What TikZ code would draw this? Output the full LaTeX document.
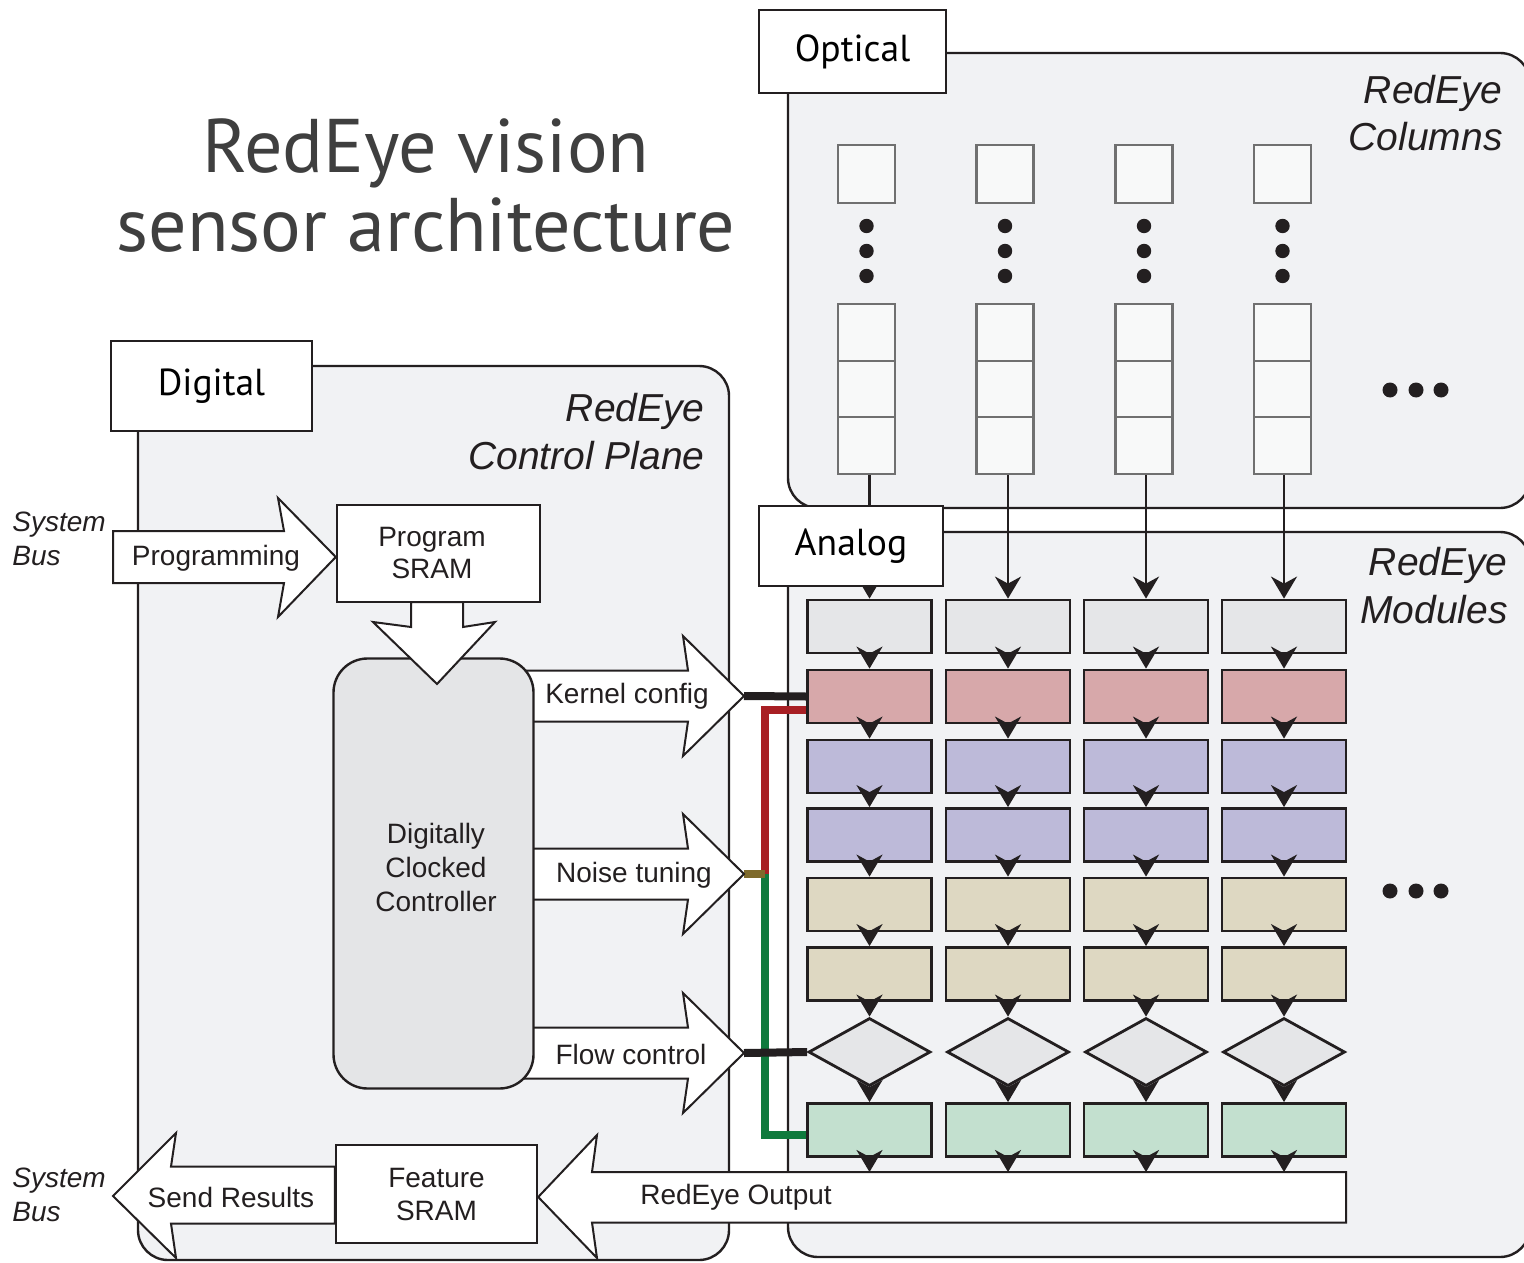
\documentclass[tikz,border=0pt]{standalone}
\usepackage{fontspec}
\setmainfont{Liberation Sans}
\newfontfamily\headfont{PT Sans}
\usetikzlibrary{arrows.meta,shapes.geometric}

\definecolor{ink}{HTML}{231F20}
\definecolor{panelbg}{HTML}{F1F2F4}
\definecolor{pixgray}{HTML}{707070}
\definecolor{pixfill}{HTML}{F8F9F9}
\definecolor{modgray}{HTML}{E5E6E8}
\definecolor{modpink}{HTML}{D7A8AA}
\definecolor{modlav}{HTML}{BDBAD9}
\definecolor{modbeige}{HTML}{DED8C2}
\definecolor{modgreen}{HTML}{C3E0CF}
\definecolor{ctrlgray}{HTML}{E4E5E7}
\definecolor{wirered}{HTML}{A81F24}
\definecolor{wiregreen}{HTML}{0F7A3D}
\definecolor{wirebrown}{HTML}{7E6A2B}
\definecolor{titlegray}{HTML}{3F3F3F}

\newcommand\lblfont{\fontsize{14}{16.5}\selectfont}
\newcommand\capfont{\fontsize{19.5}{24}\selectfont\itshape}

\pgfdeclarelayer{backdrop}
\pgfdeclarelayer{wiring}
\pgfsetlayers{backdrop,wiring,main}

\begin{document}
\begin{tikzpicture}[x=0.5pt,y=-0.5pt,
  panelbox/.style={draw=ink, line width=1.2pt, fill=panelbg, rounded corners=15pt},
  tagbox/.style={draw=ink, line width=1.2pt, fill=white, inner sep=0pt,
    font=\headfont\fontsize{18.8}{22}\selectfont},
  pixbox/.style={draw=pixgray, line width=1.3pt, fill=pixfill, inner sep=0pt, minimum width=28.5pt},
  pixline/.style={draw=pixgray, line width=1.3pt},
  modbox/.style={draw=ink, line width=1.4pt, inner sep=0pt, minimum width=62pt, minimum height=26.5pt},
  gatebox/.style={diamond, draw=ink, line width=1.4pt, fill=modgray, inner sep=0pt,
    minimum width=61pt, minimum height=34pt},
  flowarrow/.style={draw=ink, line width=1.3pt, -{Stealth[length=11pt,width=13pt,inset=3.5pt]}},
  blockarrow/.style={draw=ink, line width=1pt, fill=white, line join=miter},
  membox/.style={draw=ink, line width=1.2pt, fill=white, inner sep=0pt},
  lbl/.style={font=\lblfont, text=ink, inner sep=0pt, align=center},
  caption/.style={font=\capfont, text=ink, inner sep=0pt},
  titletext/.style={font=\headfont\fontsize{38}{42}\selectfont, text=titlegray, anchor=base},
  wireblack/.style={draw=ink, line width=4pt},
  wirecol/.style={line width=3.6pt}
]
\useasboundingbox (0,0) rectangle (1524,1262);

% ---- title ----
\node[titletext] (title1) at (426,173) {RedEye vision};
\node[titletext] (title2) at (426,252) {sensor architecture};

% ---- domain panels ----
\begin{pgfonlayer}{backdrop}
\draw[panelbox] (788,53) rectangle (1530,508);
\draw[panelbox] (788,532) rectangle (1530,1257);
\draw[panelbox] (138,366) rectangle (729,1260);
\end{pgfonlayer}

\node[caption, anchor=base east] (colcap1) at (1503,104) {RedEye};
\node[caption, anchor=base east] (colcap2) at (1503,151) {Columns};
\node[caption, anchor=base east] (modcap1) at (1508,575) {RedEye};
\node[caption, anchor=base east] (modcap2) at (1508,623) {Modules};
\node[caption, anchor=base east] (ctlcap1) at (705,421) {RedEye};
\node[caption, anchor=base east] (ctlcap2) at (705,469) {Control Plane};

% ---- pixel columns ----
\foreach \c/\x in {1/866.5, 2/1005, 3/1144, 4/1282.5} {
  \node[pixbox, minimum height=29pt] (px\c) at (\x,174) {};
  \foreach \y in {226,251,276} \fill[ink] (\x,\y) circle (3.6pt);
  \node[pixbox, minimum height=85pt] (stack\c) at (\x,389) {};
  \draw[pixline] ({\x-28.5},361) -- ({\x+28.5},361);
  \draw[pixline] ({\x-28.5},417) -- ({\x+28.5},417);
}
\foreach \x in {1390,1416,1441} {
  \fill[ink] (\x,390) circle (3.75pt);
  \fill[ink] (\x,891) circle (3.75pt);
}

% ---- control-plane block arrows ----
\coordinate (ktip) at (744,696);
\coordinate (ntip) at (744,874);
\coordinate (ftip) at (744,1053);
\draw[blockarrow] (480,670.5) -- (688,670.5) -- (683,636) -- (ktip) -- (683,756) -- (688,721.5) -- (480,721.5) -- cycle;
\draw[blockarrow] (480,848.5) -- (688,848.5) -- (683,814) -- (ntip) -- (683,934) -- (688,899.5) -- (480,899.5) -- cycle;
\draw[blockarrow] (480,1027.5) -- (688,1027.5) -- (683,993) -- (ftip) -- (683,1113) -- (688,1078.5) -- (480,1078.5) -- cycle;

\node[draw=ink, line width=1.2pt, fill=ctrlgray, rounded corners=17pt, minimum width=100pt,
  minimum height=215pt, inner sep=0pt] (ctrl) at (433.5,873.5) {};
\node[lbl, font=\fontsize{14}{17}\selectfont] (ctrllbl) at (436,867) {Digitally\\Clocked\\Controller};

\node[lbl] (klbl) at (627,696) {Kernel config};
\node[lbl] (nlbl) at (634,875) {Noise tuning};
\node[lbl] (flbl) at (631,1054) {Flow control};

% ---- program path ----
\node[membox, minimum width=101.5pt, minimum height=48.5pt] (psram) at (438.5,553.5) {};
\node[lbl] (psramlbl) at (432,553) {Program\\SRAM};
\draw[blockarrow] (113,531) -- (284,531) -- (278,498) -- (psram.west |- 0,557) -- (278,617) -- (284,583) -- (113,583) -- cycle;
\node[lbl] (plbl) at (216,558) {Programming};
\draw[blockarrow] (411,602) -- (411,627) -- (373,622) -- (437,684) -- (495,622) -- (463,627) -- (463,602) -- cycle;

% ---- output path ----
\node[membox, minimum width=100.5pt, minimum height=49pt] (fsram) at (436.5,1194) {};
\node[lbl] (fsramlbl) at (436.5,1194) {Feature\\SRAM};
\draw[blockarrow] (fsram.west |- 0,1166.5) -- (171,1166.5) -- (176,1133) -- (113,1196) -- (176,1258) -- (171,1223.5) -- (fsram.west |- 0,1223.5) -- cycle;
\node[lbl] (slbl) at (231,1197) {Send Results};
\coordinate (outtop) at (0,1172);
\draw[blockarrow] (1346,1172) -- (592,1172) -- (597,1135) -- (fsram.east |- 0,1197) -- (597,1258) -- (592,1222.5) -- (1346,1222.5) -- cycle;
\node[lbl] (olbl) at (736,1197) {RedEye Output};

\node[lbl, anchor=base west] (sb1) at (12,531) {\itshape System};
\node[lbl, anchor=base west] (sb2) at (12,565) {\itshape Bus};
\node[lbl, anchor=base west] (sb3) at (12,1187) {\itshape System};
\node[lbl, anchor=base west] (sb4) at (12,1221) {\itshape Bus};

% ---- analog module grid ----
\coordinate (bus) at (765,874);
\foreach \c/\x in {1/869.5, 2/1008, 3/1146, 4/1284} {
  \node[modbox, fill=modgray]  (r1-\c) at (\x,626.5) {};
  \node[modbox, fill=modpink]  (r2-\c) at (\x,696.5) {};
  \node[modbox, fill=modlav]   (r3-\c) at (\x,766.5) {};
  \node[modbox, fill=modlav]   (r4-\c) at (\x,835) {};
  \node[modbox, fill=modbeige] (r5-\c) at (\x,904.5) {};
  \node[modbox, fill=modbeige] (r6-\c) at (\x,974) {};
  \node[gatebox]               (r7-\c) at (\x,1052) {};
  \node[modbox, fill=modgreen] (r8-\c) at (\x,1130) {};
}

% control wires into the first column
\begin{pgfonlayer}{wiring}
\draw[wireblack] (ktip) -- (r2-1.west);
\draw[wirecol, wirered] ([yshift=-6.75pt]r2-1.west) -| (bus);
\draw[wirecol, wiregreen] (bus) |- ([yshift=-2.5pt]r8-1.west);
\draw[wirecol, wirebrown, line width=4pt] (ntip) -- (bus);
\draw[wireblack] (ftip) -- (r7-1.west);
\end{pgfonlayer}

% data flow down each column
\foreach \c in {1,2,3,4} {
  \draw[flowarrow] (r1-\c.north |- stack\c.south) -- (r1-\c.north);
  \draw[flowarrow] (r1-\c.south) -- (r2-\c.north);
  \draw[flowarrow] (r2-\c.south) -- (r3-\c.north);
  \draw[flowarrow] (r3-\c.south) -- (r4-\c.north);
  \draw[flowarrow] (r4-\c.south) -- (r5-\c.north);
  \draw[flowarrow] (r5-\c.south) -- (r6-\c.north);
  \draw[flowarrow] (r6-\c.south) -- (r7-\c.north);
  \draw[flowarrow] (r7-\c.south) -- (r8-\c.north);
  \draw[flowarrow] (r8-\c.south) -- (r8-\c.south |- outtop);
}

% ---- domain tags ----
\node[tagbox, minimum width=93.5pt, minimum height=41.5pt] (optical) at (852.5,51.5) {Optical};
\node[tagbox, minimum width=92pt, minimum height=40pt] (analog) at (851,546) {Analog};
\node[tagbox, minimum width=100.5pt, minimum height=45pt] (digital) at (211.5,386) {Digital};

\end{tikzpicture}
\end{document}
